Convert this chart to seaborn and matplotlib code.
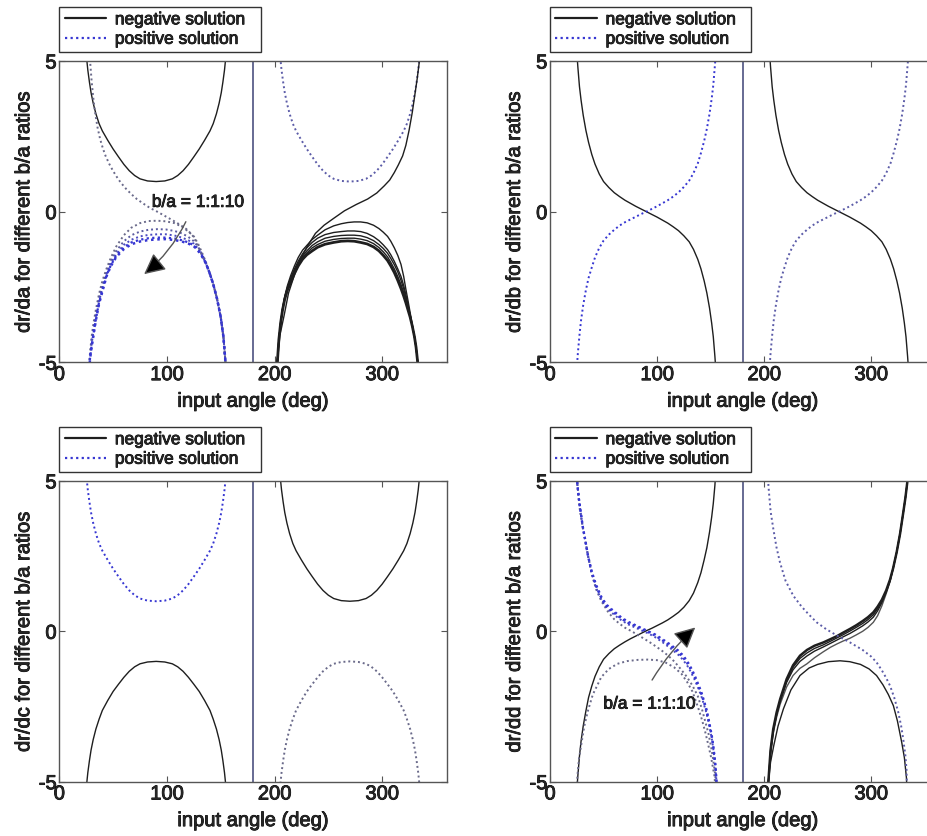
import matplotlib
matplotlib.use("Agg")
import matplotlib.pyplot as plt
import matplotlib.patheffects as pe
from matplotlib.lines import Line2D
import seaborn as sns

# ---------------- values ----------------
# U-shaped branch (min 1) and its mirror arc (max -1), centre 90 / 270 deg
u_left_x = [23.5, 24.5, 25.5, 26.5, 28, 29.5, 31.5, 34, 37, 40, 45, 50, 55, 60, 65,
            70, 75, 82, 90, 98, 105, 110, 115, 120, 125, 130, 135, 140, 143, 146,
            148.5, 150.5, 152, 153.5, 154.5, 155.5, 156.5]
u_right_x = [203.5, 204.5, 205.5, 206.5, 208, 209.5, 211.5, 214, 217, 220, 225, 230,
             235, 240, 245, 250, 255, 262, 270, 278, 285, 290, 295, 300, 305, 310,
             315, 320, 323, 326, 328.5, 330.5, 332, 333.5, 334.5, 335.5, 336.5]
u_y = [7.5, 5.8, 5.05, 4.7, 4.3, 3.95, 3.6, 3.25, 2.92, 2.68, 2.37, 2.08, 1.82, 1.57,
       1.36, 1.2, 1.09, 1.02, 1.0, 1.02, 1.09, 1.2, 1.36, 1.57, 1.82, 2.08, 2.37,
       2.68, 2.92, 3.25, 3.6, 3.95, 4.3, 4.7, 5.05, 5.8, 7.5]
arc_y = [-7.5, -5.8, -5.05, -4.7, -4.3, -3.95, -3.6, -3.25, -2.92, -2.63, -2.3, -2.0,
         -1.76, -1.53, -1.33, -1.18, -1.08, -1.02, -1.0, -1.02, -1.08, -1.18, -1.33,
         -1.53, -1.76, -2.0, -2.3, -2.63, -2.92, -3.25, -3.6, -3.95, -4.3, -4.7,
         -5.05, -5.8, -7.5]

# dr/da, left half: positive solution, b/a = 1 (S shape) and b/a = 2..10 (arcs)
a_pos_s_x = [27, 28.6, 30, 31.5, 33, 35.5, 38, 40.5, 43, 46.5, 50, 53.5, 57, 62, 67,
             72, 78, 84, 91, 98, 106, 112, 119, 124, 128, 132.5, 136, 139.5, 143,
             146.5, 150, 152.5, 154.4, 156]
a_pos_s_y = [7, 5, 4.35, 3.8, 3.35, 2.8, 2.4, 2.1, 1.85, 1.58, 1.35, 1.15, 0.97, 0.76,
             0.58, 0.42, 0.27, 0.13, 0.0, -0.14, -0.3, -0.43, -0.6, -0.8, -1.05,
             -1.45, -1.72, -2.03, -2.4, -2.88, -3.5, -4.15, -5.0, -7]
a_pos_arc_x = [25.5, 27, 28.5, 30.2, 32, 34, 37, 40, 44, 48, 53, 60, 67, 75, 83, 91,
               99, 107, 114, 120, 125, 129, 132.5, 136, 139.5, 143, 146.5, 150,
               152.5, 154.4, 156]
a_pos_arc2 = [-7.5, -5.5, -4.7, -4.1, -3.65, -3.25, -2.72, -2.3, -1.88, -1.52, -1.15,
              -0.78, -0.53, -0.38, -0.31, -0.3, -0.32, -0.38, -0.5, -0.66, -0.82,
              -1.07, -1.35, -1.65, -2.0, -2.4, -2.88, -3.5, -4.15, -5.0, -7.0]
a_pos_arc3 = [-7.5, -5.6, -4.8, -4.25, -3.82, -3.4, -2.85, -2.45, -2.0, -1.65, -1.3,
              -0.98, -0.78, -0.66, -0.6, -0.58, -0.59, -0.64, -0.72, -0.84, -0.98,
              -1.17, -1.4, -1.67, -2.01, -2.4, -2.88, -3.5, -4.15, -5.0, -7.0]
a_pos_arc4 = [-7.5, -5.7, -4.85, -4.35, -3.92, -3.5, -2.95, -2.55, -2.06, -1.72, -1.4,
              -1.1, -0.93, -0.82, -0.77, -0.75, -0.75, -0.79, -0.86, -0.95, -1.06,
              -1.23, -1.44, -1.69, -2.02, -2.4, -2.88, -3.5, -4.15, -5.0, -7.0]
a_pos_arc6 = [-7.5, -5.75, -4.88, -4.4, -4.0, -3.56, -3.0, -2.61, -2.1, -1.77, -1.46,
              -1.18, -1.02, -0.93, -0.88, -0.86, -0.86, -0.89, -0.95, -1.02, -1.12,
              -1.27, -1.46, -1.7, -2.02, -2.4, -2.88, -3.5, -4.15, -5.0, -7.0]
a_pos_arc10 = [-7.5, -5.8, -4.9, -4.45, -4.05, -3.6, -3.05, -2.65, -2.13, -1.8, -1.5,
               -1.24, -1.08, -0.99, -0.94, -0.92, -0.91, -0.94, -0.99, -1.06, -1.15,
               -1.3, -1.48, -1.7, -2.02, -2.4, -2.88, -3.5, -4.15, -5.0, -7.0]

# dr/da, right half: negative solution, b/a = 1 (S shape) and b/a = 2..10 (arcs)
a_neg_s_x = [201.5, 202.6, 205, 208.8, 213, 218.2, 224, 230.6, 238, 246, 255, 265,
             276, 286.5, 295, 302, 307, 311.3, 315, 319, 322, 325, 328, 330, 332.5,
             334.6, 336]
a_neg_s_y = [-7, -5, -4.1, -3.46, -2.7, -2.13, -1.58, -1.14, -0.72, -0.45, -0.22,
             0.03, 0.24, 0.42, 0.62, 0.86, 1.05, 1.3, 1.55, 1.85, 2.2, 2.7, 3.3,
             3.79, 4.4, 5, 7]
a_neg_arc_x = [201.5, 202.6, 204, 205.7, 207.5, 209.5, 212, 215, 218.5, 222, 226,
               230, 235, 240, 247, 255, 262, 268, 274, 280, 286, 292, 297, 301, 305,
               308, 311.3, 314.5, 317.5, 320, 322, 324, 326, 328, 330, 331.5, 333,
               334.5]
a_neg_arc2 = [-7.5, -5, -4.25, -3.68, -3.2, -2.8, -2.45, -2.12, -1.8, -1.52, -1.28,
              -1.12, -0.92, -0.78, -0.6, -0.47, -0.4, -0.36, -0.34, -0.34, -0.37,
              -0.45, -0.56, -0.68, -0.82, -0.98, -1.2, -1.45, -1.75, -2.15, -2.57,
              -2.95, -3.35, -3.75, -4.15, -4.5, -5, -7]
a_neg_arc3 = [-7.5, -5, -4.25, -3.68, -3.22, -2.84, -2.5, -2.2, -1.9, -1.64, -1.4,
              -1.2, -1.02, -0.88, -0.76, -0.69, -0.66, -0.64, -0.64, -0.66, -0.72,
              -0.83, -0.96, -1.1, -1.26, -1.43, -1.65, -1.9, -2.15, -2.45, -2.75,
              -3.08, -3.42, -3.78, -4.15, -4.5, -5, -7]
a_neg_arc4 = [-7.5, -5, -4.25, -3.68, -3.23, -2.86, -2.54, -2.25, -1.96, -1.7, -1.48,
              -1.3, -1.12, -1.0, -0.88, -0.82, -0.79, -0.78, -0.78, -0.8, -0.86,
              -0.96, -1.09, -1.22, -1.38, -1.55, -1.76, -2.0, -2.28, -2.56, -2.85,
              -3.15, -3.45, -3.78, -4.15, -4.5, -5, -7]
a_neg_arc6 = [-7.5, -5, -4.25, -3.68, -3.24, -2.88, -2.57, -2.3, -2.0, -1.75, -1.53,
              -1.37, -1.2, -1.09, -0.98, -0.92, -0.89, -0.88, -0.88, -0.91, -0.96,
              -1.06, -1.19, -1.33, -1.5, -1.68, -1.9, -2.15, -2.42, -2.68, -2.93,
              -3.2, -3.48, -3.8, -4.15, -4.5, -5, -7]
a_neg_arc10 = [-7.5, -5, -4.25, -3.68, -3.25, -2.9, -2.6, -2.35, -2.05, -1.8, -1.58,
               -1.43, -1.3, -1.18, -1.08, -1.02, -0.98, -0.97, -0.98, -1.02, -1.07,
               -1.17, -1.3, -1.45, -1.62, -1.8, -2.02, -2.28, -2.55, -2.8, -3.02,
               -3.26, -3.5, -3.8, -4.15, -4.5, -5, -7]

# dr/db: every b/a ratio gives the same curves
b_left_x = [23, 25, 26, 27.5, 29, 31, 33.5, 36, 39, 42, 46, 50, 55, 60, 65, 70, 75,
            80, 85, 90, 95, 100, 105, 110, 115, 120, 125, 130, 134, 138, 141, 144,
            146.5, 149, 151, 152.5, 154, 155, 157]
b_right_x = [203, 205, 206, 207.5, 209, 211, 213.5, 216, 219, 222, 226, 230, 235,
             240, 245, 250, 255, 260, 265, 270, 275, 280, 285, 290, 295, 300, 305,
             310, 314, 318, 321, 324, 326.5, 329, 331, 332.5, 334, 335, 337]
b_neg_y = [7.5, 5.3, 4.8, 4.15, 3.7, 3.2, 2.7, 2.3, 1.9, 1.58, 1.25, 1.0, 0.8, 0.63,
           0.5, 0.38, 0.28, 0.18, 0.09, 0, -0.09, -0.18, -0.28, -0.38, -0.5, -0.63,
           -0.8, -1.0, -1.25, -1.58, -1.9, -2.3, -2.7, -3.2, -3.7, -4.15, -4.8,
           -5.3, -7.5]
b_pos_y = [-7.5, -5.2, -4.7, -4.1, -3.6, -3.1, -2.6, -2.2, -1.85, -1.52, -1.2,
           -0.96, -0.76, -0.6, -0.46, -0.35, -0.26, -0.17, -0.08, 0, 0.09, 0.18,
           0.28, 0.38, 0.5, 0.64, 0.82, 1.03, 1.28, 1.6, 1.95, 2.35, 2.75, 3.25,
           3.75, 4.2, 4.85, 5.3, 7.5]

# dr/dd, left half: negative S (all ratios), positive b/a = 1 arc and b/a = 2..10
d_neg_left_y = [-7.5, -5.3, -4.8, -4.15, -3.65, -3.15, -2.65, -2.2, -1.82, -1.5,
                -1.18, -0.93, -0.74, -0.58, -0.46, -0.35, -0.25, -0.16, -0.07, 0.02,
                0.1, 0.19, 0.28, 0.38, 0.5, 0.63, 0.8, 1.02, 1.27, 1.62, 1.95, 2.38,
                2.78, 3.3, 3.8, 4.25, 4.85, 5.4, 7.5]
d_pos_arc_x = [24, 25.5, 27, 29.3, 32, 35.5, 40, 47.9, 55, 63, 72, 82, 91.5, 100,
               108, 116, 122.7, 128, 133, 138, 142, 145, 147.6, 150.5, 152.5, 153.8,
               156]
d_pos_arc_y = [-7, -4.85, -4.25, -3.74, -3.15, -2.63, -2.1, -1.52, -1.25, -1.08,
               -0.99, -0.95, -0.94, -0.96, -1.04, -1.2, -1.41, -1.68, -2.0, -2.5,
               -2.95, -3.35, -3.74, -4.2, -4.6, -4.85, -7]
d_pos2_x = [23.5, 25.5, 27, 28, 30.5, 33, 36, 39, 43, 48, 54.5, 60, 65, 70, 76.3,
            82, 88, 93, 98, 104, 110, 116, 122, 127.5, 133, 138, 142, 145, 148,
            150.5, 152.5, 154, 155.5, 157]
d_pos2_y = [7, 4.9, 4.3, 4.0, 3.45, 3.0, 2.45, 1.9, 1.4, 1.0, 0.63, 0.4, 0.25, 0.12,
            0.0, -0.12, -0.25, -0.36, -0.48, -0.63, -0.8, -1.0, -1.25, -1.5, -1.8,
            -2.15, -2.6, -3.0, -3.4, -3.85, -4.3, -4.7, -5.2, -7]
d_band_x = [23.5, 25.5, 27, 28.5, 30.5, 32.7, 35.5, 38.9, 43, 48.3, 53, 57, 62, 67,
            73, 80, 86, 91.8, 98, 105, 112, 119.8, 124, 128, 131.5, 135, 138, 141,
            143.5, 146, 148, 150, 151.5, 153, 154.5, 155.5, 157]
d_pos3_y = [7, 4.9, 4.4, 4.0, 3.5, 3.07, 2.48, 1.93, 1.45, 1.02, 0.78, 0.64, 0.49,
            0.36, 0.23, 0.12, 0.02, -0.07, -0.19, -0.36, -0.55, -0.78, -0.94, -1.13,
            -1.35, -1.6, -1.85, -2.12, -2.4, -2.7, -3.0, -3.35, -3.65, -4.05, -4.55,
            -5.0, -7]
d_pos5_y = [7, 4.9, 4.4, 4.0, 3.5, 3.07, 2.5, 1.96, 1.5, 1.07, 0.83, 0.7, 0.55, 0.41,
            0.28, 0.17, 0.07, -0.03, -0.14, -0.3, -0.48, -0.7, -0.86, -1.05, -1.27,
            -1.52, -1.78, -2.05, -2.33, -2.63, -2.95, -3.3, -3.6, -4.0, -4.5, -5.0,
            -7]
d_pos10_y = [7, 4.9, 4.4, 4.0, 3.5, 3.08, 2.52, 2.0, 1.55, 1.12, 0.88, 0.75, 0.6,
             0.45, 0.32, 0.2, 0.1, 0.0, -0.1, -0.26, -0.43, -0.64, -0.79, -0.98,
             -1.2, -1.45, -1.72, -1.98, -2.27, -2.57, -2.9, -3.25, -3.55, -3.96,
             -4.45, -5.0, -7]

# dr/dd, right half: negative b/a = 1 arc, b/a = 2..10 S shapes, positive S
d_neg_arc_x = [202.5, 204, 206, 209, 213, 218, 225, 233.5, 242, 250, 260, 270.9, 280,
               290, 298, 305, 311, 316, 320.7, 324.5, 328.5, 331, 333, 334.5]
d_neg_arc_y = [-7, -5, -4.35, -3.8, -3.15, -2.58, -1.95, -1.47, -1.22, -1.1, -1.01,
               -0.98, -1.01, -1.1, -1.25, -1.47, -1.78, -2.1, -2.47, -2.98, -3.69,
               -4.2, -4.9, -7]
d_neg_s_x = [202.5, 204, 206, 208.5, 211.7, 215, 221, 227, 233.5, 240, 247, 255.3,
             262, 268, 274, 280.2, 286, 292, 297, 302, 306, 310, 314, 317.6, 320.5,
             323.8, 327, 330, 332, 333.7, 335]
d_neg2_y = [-7, -5, -4.05, -3.4, -2.85, -2.42, -1.85, -1.47, -1.23, -1.08, -0.88,
            -0.68, -0.53, -0.42, -0.32, -0.23, -0.12, 0.0, 0.13, 0.3, 0.52, 0.85,
            1.25, 1.65, 2.08, 2.63, 3.25, 3.96, 4.45, 4.95, 7]
d_neg3_y = [-7, -5, -4.0, -3.32, -2.77, -2.33, -1.7, -1.28, -1.0, -0.82, -0.66,
            -0.52, -0.4, -0.29, -0.18, -0.07, 0.05, 0.18, 0.31, 0.47, 0.68, 0.95,
            1.3, 1.68, 2.09, 2.63, 3.25, 3.96, 4.45, 4.95, 7]
d_neg4_y = [-7, -5, -3.97, -3.28, -2.72, -2.28, -1.64, -1.2, -0.9, -0.72, -0.57,
            -0.45, -0.33, -0.22, -0.11, 0.01, 0.13, 0.26, 0.39, 0.55, 0.75, 1.0,
            1.33, 1.7, 2.1, 2.63, 3.25, 3.96, 4.45, 4.95, 7]
d_neg10_y = [-7, -4.97, -3.95, -3.25, -2.69, -2.25, -1.59, -1.13, -0.81, -0.62,
             -0.48, -0.37, -0.26, -0.16, -0.04, 0.08, 0.2, 0.34, 0.47, 0.63, 0.82,
             1.05, 1.36, 1.72, 2.1, 2.63, 3.25, 3.96, 4.45, 4.95, 7]
d_pos_right_x = [202.5, 204, 206, 208.6, 211.5, 214.8, 220, 227.3, 235, 242, 249,
                 258, 268, 280.2, 292, 300, 305, 310, 314, 317.6, 321.5, 325.3, 328,
                 330, 332, 333, 334.5]
d_pos_right_y = [7, 4.84, 4.0, 3.4, 2.8, 2.29, 1.68, 1.18, 0.82, 0.55, 0.3, 0.07,
                 -0.14, -0.37, -0.62, -0.84, -1.03, -1.3, -1.55, -1.81, -2.2, -2.69,
                 -3.15, -3.6, -4.15, -4.6, -7]

y_labels = ["dr/da for different b/a ratios", "dr/db for different b/a ratios",
            "dr/dc for different b/a ratios", "dr/dd for different b/a ratios"]
legend_labels = ["negative solution  ", "positive solution  "]

# ---------------- drawing ----------------
sns.set_style("white")
plt.rcParams["font.family"] = ["Liberation Sans", "DejaVu Sans"]
plt.rcParams["axes.unicode_minus"] = False

NEG = "#1e1e1e"
BLUE = "#3636d2"
GREYBLUE = "#5c5ca8"
GREY = "#6a6a8a"
DOTS = (0, (1, 1.5))
HEAVY = [pe.withStroke(linewidth=0.6, foreground="black")]


def solid(ax, x, y, color=NEG, lw=1.0):
    sns.lineplot(x=x, y=y, ax=ax, color=color, lw=lw, sort=False, estimator=None)


def dotted(ax, x, y, color=GREYBLUE, lw=1.4):
    sns.lineplot(x=x, y=y, ax=ax, color=color, lw=lw, linestyle=DOTS,
                 sort=False, estimator=None)


def style(ax, ylabel):
    ax.axvline(180, color="#5a5f8a", lw=1.3)
    ax.set_xlim(0, 360)
    ax.set_ylim(-5, 5)
    ax.set_xticks([0, 100, 200, 300])
    ax.set_yticks([-5, 0, 5])
    ax.tick_params(direction="in", length=4, bottom=True, left=True, top=True,
                   right=True, labelsize=14.5, pad=2, color="#555555")
    for sp in ax.spines.values():
        sp.set_color("#555555")
        sp.set_linewidth(1.0)
    ax.set_xlabel("input angle (deg)", fontsize=14.5, labelpad=5.5)
    ax.set_ylabel(ylabel, fontsize=14.5, labelpad=4)
    handles = [Line2D([], [], color=NEG, lw=1.6),
               Line2D([], [], color=BLUE, lw=1.6, linestyle=DOTS)]
    leg = ax.legend(handles, legend_labels, loc="lower left",
                    bbox_to_anchor=(0.0, 1.03), borderaxespad=0, fontsize=12.5,
                    fancybox=False, framealpha=1, edgecolor="#333333",
                    handlelength=2.4, handletextpad=0.5, borderpad=0.3,
                    labelspacing=0.25)
    leg.get_frame().set_linewidth(1.0)
    texts = (ax.get_xticklabels() + ax.get_yticklabels() + leg.get_texts()
             + [ax.xaxis.label, ax.yaxis.label])
    for t in texts:
        t.set_path_effects(HEAVY)


def arrow(ax, head, tail, rad):
    ax.annotate("", xy=head, xytext=tail,
                arrowprops=dict(arrowstyle="-|>", mutation_scale=32, lw=1.0,
                                edgecolor="#555555", facecolor="black",
                                connectionstyle=f"arc3,rad={rad}"))


fig = plt.figure(figsize=(9.28, 8.37), dpi=100)
ax_a = fig.add_axes([0.0639, 0.5659, 0.4175, 0.36])
ax_b = fig.add_axes([0.5927, 0.5659, 0.4153, 0.36])
ax_c = fig.add_axes([0.0639, 0.0649, 0.4175, 0.3593])
ax_d = fig.add_axes([0.5927, 0.0649, 0.4153, 0.3593])

# dr/da
solid(ax_a, u_left_x, u_y)
dotted(ax_a, a_pos_s_x, a_pos_s_y, color=GREY)
dotted(ax_a, a_pos_arc_x, a_pos_arc2, color=GREY)
dotted(ax_a, a_pos_arc_x, a_pos_arc3, color="#5a5aa0")
dotted(ax_a, a_pos_arc_x, a_pos_arc4, color="#4a4ac0")
dotted(ax_a, a_pos_arc_x, a_pos_arc6, color=BLUE, lw=1.6)
dotted(ax_a, a_pos_arc_x, a_pos_arc10, color=BLUE, lw=1.8)
dotted(ax_a, u_right_x, u_y)
solid(ax_a, a_neg_s_x, a_neg_s_y)
for arc in [a_neg_arc2, a_neg_arc3, a_neg_arc4, a_neg_arc6]:
    solid(ax_a, a_neg_arc_x, arc)
solid(ax_a, a_neg_arc_x, a_neg_arc10, lw=2.0)
ax_a.text(86, 0.31, "b/a = 1:1:10", fontsize=12.5, va="center", ha="left",
          path_effects=HEAVY)
arrow(ax_a, (76.8, -2.13), (118.7, -0.25), -0.12)
style(ax_a, y_labels[0])

# dr/db
solid(ax_b, b_left_x, b_neg_y)
solid(ax_b, b_right_x, b_neg_y)
dotted(ax_b, b_left_x, b_pos_y, color=BLUE)
dotted(ax_b, b_right_x, b_pos_y, color=GREYBLUE)
style(ax_b, y_labels[1])

# dr/dc
dotted(ax_c, u_left_x, u_y, color=BLUE)
solid(ax_c, u_left_x, arc_y)
solid(ax_c, u_right_x, u_y)
dotted(ax_c, u_right_x, arc_y, color=GREY)
style(ax_c, y_labels[2])

# dr/dd
solid(ax_d, b_left_x, d_neg_left_y)
dotted(ax_d, d_pos_arc_x, d_pos_arc_y, color=GREY)
dotted(ax_d, d_pos2_x, d_pos2_y, color=GREY)
dotted(ax_d, d_band_x, d_pos3_y, color="#4a4ac0")
dotted(ax_d, d_band_x, d_pos5_y, color=BLUE, lw=1.6)
dotted(ax_d, d_band_x, d_pos10_y, color=BLUE, lw=1.6)
solid(ax_d, d_neg_arc_x, d_neg_arc_y)
solid(ax_d, d_neg_s_x, d_neg2_y, color="#555555")
solid(ax_d, d_neg_s_x, d_neg3_y)
solid(ax_d, d_neg_s_x, d_neg4_y)
solid(ax_d, d_neg_s_x, d_neg10_y, lw=1.8)
dotted(ax_d, d_pos_right_x, d_pos_right_y)
ax_d.text(49.8, -2.42, "b/a = 1:1:10", fontsize=12.5, va="center", ha="left",
          path_effects=HEAVY)
arrow(ax_d, (137.6, 0.19), (94, -1.7), -0.08)
style(ax_d, y_labels[3])

fig.savefig("out.png", dpi=100)
plt.close(fig)
